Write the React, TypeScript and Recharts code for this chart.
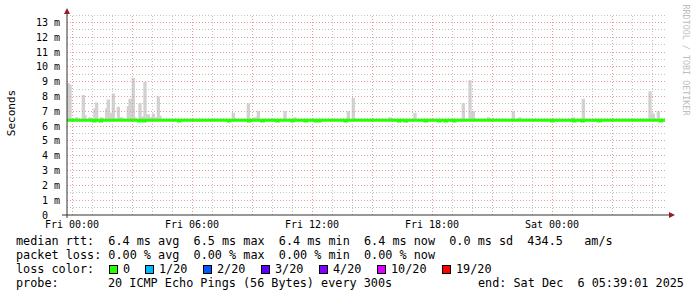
import React from 'react';
import {
  ComposedChart,
  Area,
  Line,
  XAxis,
  YAxis,
  ReferenceLine,
  ReferenceDot,
} from 'recharts';

// time in hours relative to Fri 00:00, one sample every 5 minutes
const SAMPLE_COUNT = 360;
const LAST_SAMPLE_HOUR = 29.65;
const MEDIAN_RTT = 6.4;
const SMOKE_LOW = 6.33;
const SMOKE_HIGH = 6.46;

const timeTickHours = [0, 6, 12, 18, 24];
const timeTickLabels = ['Fri 00:00', 'Fri 06:00', 'Fri 12:00', 'Fri 18:00', 'Sat 00:00'];
const rttTicks = [0, 1, 2, 3, 4, 5, 6, 7, 8, 9, 10, 11, 12, 13];

const majorHours = [0, 3, 6, 9, 12, 15, 18, 21, 24, 27];
const minorHours = [1, 2, 4, 5, 7, 8, 10, 11, 13, 14, 16, 17, 19, 20, 22, 23, 25, 26, 28, 29];
const majorRtt = [1, 2, 3, 4, 5, 6, 7, 8, 9, 10, 11, 12, 13];
const minorRtt = [0.5, 1.5, 2.5, 3.5, 4.5, 5.5, 6.5, 7.5, 8.5, 9.5, 10.5, 11.5, 12.5, 13.5];

// tallest ping (ms) of the smoke at a sample
const spikeHours = [
  -0.25, -0.17, 0.15, 0.5, 0.6, 0.8, 1.05, 1.15, 1.4, 1.65, 1.72, 1.85, 1.95, 2.2, 2.4,
  2.7, 2.85, 2.95, 3.1, 3.3, 3.45, 3.6, 3.7, 3.8, 3.95, 4.05, 4.2, 4.3,
  8.0, 8.7, 9.05, 9.2, 10.6, 11.05, 13.7, 13.95, 15.85, 17.05, 19.45, 19.85, 19.95,
  20.7, 21.95, 22.35, 24.95, 25.45, 28.85, 28.95, 29.2,
];
const spikeMax = [
  8.9, 8.8, 6.6, 8.1, 6.75, 6.6, 7.2, 7.6, 6.6, 7.2, 7.8, 6.9, 8.2, 7.3, 6.6,
  7.35, 7.85, 9.25, 6.6, 7.55, 6.65, 9.0, 6.8, 6.6, 6.85, 6.6, 8.0, 6.7,
  6.9, 7.55, 6.6, 7.0, 7.0, 6.6, 7.0, 7.9, 6.6, 6.9, 7.55, 9.1, 7.0,
  6.6, 7.0, 6.6, 6.6, 7.85, 8.35, 6.85, 7.0,
];

// samples where the median sits a little lower
const dipHours = [
  1.1, 1.4, 3.35, 3.6, 5.35, 7.85, 8.8, 9.45, 10.2, 11.0, 11.65, 12.15, 12.35, 13.65,
  16.3, 16.65, 17.65, 18.3, 18.65, 19.05, 24.0, 25.05, 25.5, 26.3, 29.4,
];
const dipMedian = [
  6.35, 6.35, 6.35, 6.35, 6.35, 6.35, 6.35, 6.35, 6.35, 6.35, 6.35, 6.35, 6.35, 6.35,
  6.35, 6.35, 6.35, 6.35, 6.35, 6.35, 6.35, 6.35, 6.35, 6.35, 6.35,
];

const legendRtt = 'median rtt:  6.4 ms avg  6.5 ms max  6.4 ms min  6.4 ms now  0.0 ms sd  434.5   am/s';
const legendLoss = 'packet loss: 0.00 % avg  0.00 % max  0.00 % min  0.00 % now';
const lossLabels = ['0', '1/20', '2/20', '3/20', '4/20', '10/20', '19/20'];
const lossColors = ['#26ff00', '#00b8ff', '#0059ff', '#5e00ff', '#7e00ff', '#dd00ff', '#ff0000'];
const probeText = '20 ICMP Echo Pings (56 Bytes) every 300s';
const endText = 'end: Sat Dec  6 05:39:01 2025';

const firstHour = LAST_SAMPLE_HOUR - (SAMPLE_COUNT - 1) / 12;
const rows = Array.from({ length: SAMPLE_COUNT }, (_, i) => ({
  t: firstHour + i / 12,
  median: MEDIAN_RTT,
  smoke: [SMOKE_LOW, SMOKE_HIGH] as [number, number],
}));
const indexAt = (h: number) => Math.max(0, Math.min(SAMPLE_COUNT - 1, Math.round((h - firstHour) * 12)));
// a smoke bar covers about two samples wide in the rendered graph
spikeHours.forEach((h, i) => {
  const idx = indexAt(h);
  [idx, idx + 1].forEach((j) => {
    if (j < SAMPLE_COUNT && rows[j].smoke[1] < spikeMax[i]) rows[j].smoke = [SMOKE_LOW, spikeMax[i]];
  });
});
dipHours.forEach((h, i) => {
  rows[indexAt(h)].median = dipMedian[i];
});

const MONO = "'DejaVu Sans Mono', monospace";
const swatchX = [109, 145, 203, 261, 319, 377, 442];
const X_MIN = -0.25;
const X_MAX = 29.75;
const Y_MAX = 13.5;
const MINOR_GRID = '#c4c4c4';
const MAJOR_GRID = '#e89c9c';

const upArrow = (p: any) => (
  <path d={`M${p.cx - 3},${p.cy - 1} L${p.cx + 3},${p.cy - 1} L${p.cx},${p.cy - 7} Z`} fill="#9b1c1c" />
);
const rightArrow = (p: any) => (
  <path d={`M${p.cx + 2},${p.cy - 3} L${p.cx + 2},${p.cy + 3} L${p.cx + 8},${p.cy} Z`} fill="#9b1c1c" />
);

const textRow = (top: number, left: number, text: string) => (
  <span
    style={{
      position: 'absolute',
      top,
      left,
      fontFamily: MONO,
      fontSize: 11.8,
      lineHeight: '14px',
      whiteSpace: 'pre',
      color: '#000',
    }}
  >
    {text}
  </span>
);

const gridH = (values: number[], color: string) =>
  values.map((v) => (
    <ReferenceLine
      key={`h${color}${v}`}
      y={v}
      stroke={color}
      strokeDasharray="1 2"
      shapeRendering="crispEdges"
      ifOverflow="visible"
    />
  ));
const gridV = (values: number[], color: string) =>
  values.map((v) => (
    <ReferenceLine
      key={`v${color}${v}`}
      x={v}
      stroke={color}
      strokeDasharray="1 2"
      shapeRendering="crispEdges"
      ifOverflow="visible"
    />
  ));

export default function App() {
  return (
    <div style={{ position: 'fixed', left: 0, top: 0, width: 697, height: 297, background: '#fff', overflow: 'hidden' }}>
      <ComposedChart
        width={697}
        height={297}
        data={rows}
        margin={{ top: 15, right: 30, bottom: 52, left: 7 }}
      >
        <XAxis
          dataKey="t"
          type="number"
          domain={[X_MIN, X_MAX]}
          ticks={timeTickHours}
          interval={0}
          tickFormatter={(v: number) => timeTickLabels[timeTickHours.indexOf(v)] ?? ''}
          axisLine={false}
          tickLine={false}
          tickSize={0}
          tickMargin={6}
          allowDataOverflow
          tick={{ fontFamily: MONO, fontSize: 10, fill: '#000' }}
        />
        <YAxis
          type="number"
          domain={[0, Y_MAX]}
          ticks={rttTicks}
          interval={0}
          tickFormatter={(v: number) => (v === 0 ? '0\u00a0\u00a0' : `${v} m`)}
          axisLine={false}
          tickLine={false}
          tickSize={0}
          tickMargin={7}
          width={60}
          allowDataOverflow
          tick={{ fontFamily: MONO, fontSize: 10, fill: '#000' }}
        />
        {gridH(minorRtt, MINOR_GRID)}
        {gridV(minorHours, MINOR_GRID)}
        {gridH(majorRtt, MAJOR_GRID)}
        {gridV(majorHours, MAJOR_GRID)}
        <Area
          type="stepAfter"
          dataKey="smoke"
          stroke="none"
          fill="#d2d2d2"
          fillOpacity={1}
          isAnimationActive={false}
          dot={false}
          activeDot={false}
        />
        <Line
          type="stepAfter"
          dataKey="median"
          stroke="#26ff00"
          strokeWidth={3}
          dot={false}
          activeDot={false}
          isAnimationActive={false}
        />
        <ReferenceLine
          segment={[{ x: X_MIN, y: -0.2 }, { x: X_MIN, y: 13.6 }]}
          stroke="#333"
          strokeWidth={1}
          ifOverflow="visible"
        />
        <ReferenceLine
          segment={[{ x: -0.5, y: 0 }, { x: 29.9, y: 0 }]}
          stroke="#333"
          strokeWidth={1}
          ifOverflow="visible"
        />
        <ReferenceDot x={X_MIN} y={Y_MAX} ifOverflow="visible" shape={upArrow} />
        <ReferenceDot x={X_MAX} y={0} ifOverflow="visible" shape={rightArrow} />
      </ComposedChart>

      <span
        style={{
          position: 'absolute',
          left: 11,
          top: 113,
          transform: 'translate(-50%, -50%) rotate(-90deg)',
          fontFamily: MONO,
          fontSize: 11,
          whiteSpace: 'pre',
          color: '#000',
        }}
      >
        Seconds
      </span>
      <span
        style={{
          position: 'absolute',
          left: 686,
          top: 60,
          transform: 'translate(-50%, -50%) rotate(90deg)',
          fontFamily: MONO,
          fontSize: 8.4,
          whiteSpace: 'pre',
          color: '#bdbdbd',
        }}
      >
        RRDTOOL / TOBI OETIKER
      </span>

      {textRow(234, 16, legendRtt)}
      {textRow(248, 16, legendLoss)}
      {textRow(262, 16, 'loss color:')}
      {lossLabels.map((label, i) => (
        <React.Fragment key={label}>
          <span
            style={{
              position: 'absolute',
              left: swatchX[i],
              top: 265,
              width: 7,
              height: 7,
              background: lossColors[i],
              border: '1px solid #000',
            }}
          />
          {textRow(262, swatchX[i] + 14, label)}
        </React.Fragment>
      ))}
      {textRow(276, 16, 'probe:')}
      {textRow(276, 108, probeText)}
      {textRow(276, 478, endText)}
    </div>
  );
}
